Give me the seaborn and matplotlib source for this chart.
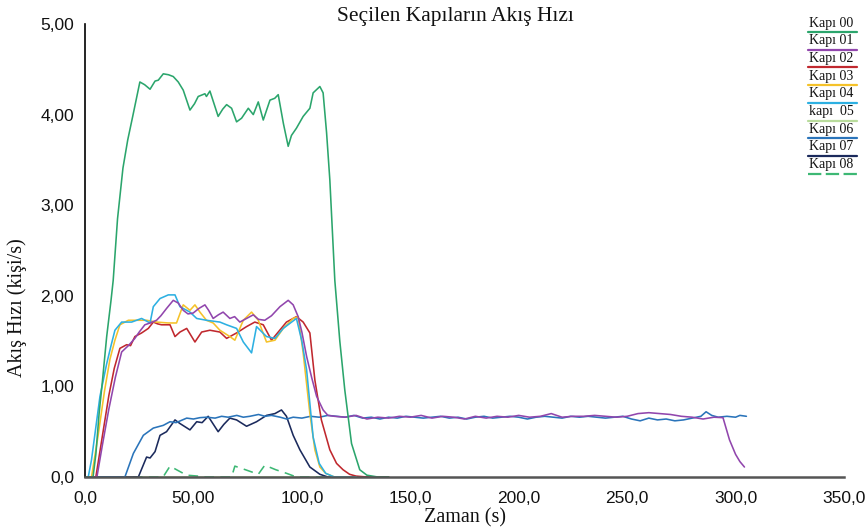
import matplotlib
matplotlib.use("Agg")
import matplotlib.pyplot as plt
from matplotlib.lines import Line2D
import seaborn as sns
import pandas as pd

# ---------------- data ----------------
series_names = ["Kapı 00", "Kapı 01", "Kapı 02", "Kapı 03", "Kapı 04",
                "kapı  05", "Kapı 06", "Kapı 07", "Kapı 08"]

t00 = [0, 3.7, 5, 6.5, 8, 10, 12, 13, 15, 17.5, 19.7, 22, 25.3, 27.5, 30, 32.3, 33.8, 36.1, 38.5,
       40.7, 43, 45.3, 48.4, 50.5, 52.2, 55.3, 56, 57.6, 61.4, 63.5, 65.3, 67.6, 69.9, 72.2, 75.3,
       77.6, 79.9, 82.2, 85.3, 87.5, 89.1, 91.5, 93.7, 95.2, 97.5, 100.6, 103.7, 105.2, 108.3,
       109.8, 111.4, 112.9, 115.2, 117.5, 119.8, 122.9, 126.7, 130, 135, 140]
y00 = [0, 0, 0.25, 0.7, 1.05, 1.55, 1.95, 2.17, 2.85, 3.41, 3.72, 3.98, 4.36, 4.33, 4.28, 4.37, 4.38,
       4.45, 4.44, 4.42, 4.36, 4.27, 4.05, 4.12, 4.20, 4.23, 4.20, 4.26, 3.98, 4.06, 4.11, 4.07,
       3.92, 3.96, 4.07, 4.00, 4.14, 3.94, 4.16, 4.18, 4.22, 3.90, 3.65, 3.77, 3.85, 3.98, 4.07,
       4.24, 4.31, 4.24, 3.80, 3.28, 2.17, 1.50, 0.96, 0.37, 0.08, 0.02, 0, 0]

t01 = [0, 5.5, 8, 11, 14, 16.9, 20, 23, 25, 27.6, 30, 33, 35, 37.6, 40.7, 43, 45.3, 47.5, 49.9,
       52.5, 55.3, 57, 59.1, 61.5, 63.7, 66.8, 69, 71.4, 74.5, 77.6, 80, 82.9, 86, 89.9, 93.7, 96,
       98.3, 100, 102.2, 104.5, 106.8, 109.8, 112,
       115, 120, 125, 130, 135, 140, 145, 150, 155, 160, 165, 170, 175, 180, 185, 190, 195, 200,
       205, 210, 215, 220, 225, 230, 235, 240, 245, 250, 255, 260, 265, 270, 275, 280, 285, 290,
       294.2, 297.2, 300, 302, 304.1]
y01 = [0, 0, 0.35, 0.75, 1.10, 1.38, 1.45, 1.53, 1.60, 1.68, 1.70, 1.73, 1.78, 1.86, 1.95, 1.92,
       1.84, 1.80, 1.81, 1.86, 1.90, 1.84, 1.75, 1.79, 1.82, 1.75, 1.77, 1.71, 1.75, 1.79, 1.74,
       1.73, 1.78, 1.88, 1.95, 1.90, 1.77, 1.60, 1.33, 1.10, 0.89, 0.74, 0.68,
       0.67, 0.66, 0.68, 0.64, 0.66, 0.65, 0.67, 0.66, 0.68, 0.65, 0.67, 0.66, 0.64, 0.67, 0.65,
       0.67, 0.66, 0.68, 0.66, 0.67, 0.70, 0.66, 0.67, 0.67, 0.68, 0.67, 0.66, 0.67, 0.70, 0.71,
       0.70, 0.69, 0.67, 0.66, 0.64, 0.66, 0.655, 0.41, 0.25, 0.17, 0.11]

t02 = [0, 5, 8, 11, 13.5, 16.1, 19.2, 21, 23, 26.1, 29.2, 31.5, 33.5, 35.3, 39.2, 41.5, 43.8, 46.9,
       50.7, 53.8, 57.6, 62.2, 65.3, 69.9, 74.5, 78.3, 82.2, 86, 89.1, 92.9, 97.5, 100.6, 103.7,
       106, 109, 112.9, 116, 119, 122, 125, 130, 140]
y02 = [0, 0, 0.45, 0.90, 1.20, 1.42, 1.46, 1.45, 1.55, 1.59, 1.64, 1.71, 1.69, 1.68, 1.68, 1.55,
       1.60, 1.64, 1.49, 1.60, 1.62, 1.60, 1.53, 1.59, 1.66, 1.71, 1.68, 1.51, 1.60, 1.71, 1.77,
       1.71, 1.59, 1.07, 0.63, 0.30, 0.15, 0.08, 0.03, 0.01, 0, 0]

t03 = [0, 3, 6, 9, 11.5, 13.8, 16.1, 20, 24.6, 28.4, 33, 38.4, 42.2, 45.3, 48.4, 50.7, 53, 56,
       59.1, 62.2, 66.8, 69.1, 73, 76.8, 79.9, 83.7, 87.6, 91.4, 96, 98.3, 100.6, 103.7, 106,
       108.3, 111, 115, 125]
y03 = [0, 0, 0.45, 0.95, 1.30, 1.51, 1.68, 1.73, 1.73, 1.73, 1.71, 1.70, 1.70, 1.90, 1.84, 1.90,
       1.82, 1.73, 1.70, 1.62, 1.55, 1.51, 1.73, 1.82, 1.73, 1.49, 1.51, 1.64, 1.75, 1.77, 1.37,
       0.70, 0.30, 0.11, 0.04, 0, 0]

t04 = [0, 1.5, 3, 5, 6.9, 10, 12, 13.8, 16.9, 21.5, 26.1, 30, 31.5, 34.6, 38.4, 41.5, 43.8, 48.4,
       51.5, 56, 62.2, 65.3, 69.9, 73, 76.8, 79.1, 83.7, 87.6, 91.4, 97.5, 100, 102.2, 105.2, 108,
       111, 115, 125]
y04 = [0, 0, 0.19, 0.55, 0.89, 1.25, 1.45, 1.62, 1.71, 1.71, 1.75, 1.70, 1.88, 1.97, 2.01, 2.01,
       1.88, 1.82, 1.75, 1.73, 1.71, 1.68, 1.64, 1.49, 1.37, 1.66, 1.55, 1.53, 1.64, 1.75, 1.50,
       1.18, 0.44, 0.15, 0.04, 0, 0]

t05 = [0, 140]
y05 = [0, 0]

t06 = [0, 18.4, 22.3, 26.9, 31.5, 36.1, 39.2, 42, 46.9, 50, 53, 56, 60, 63, 66, 70, 73, 76, 80,
       83, 86, 90, 93, 96, 100, 104, 108, 112, 116, 120, 124, 128, 132, 136, 140, 144, 148, 152,
       156, 160, 164, 168, 172, 176, 180, 184, 188, 192, 196, 200, 204, 208, 212, 216, 220, 224,
       228, 232, 236, 240, 244, 248, 252, 256, 260, 264, 268, 272, 276, 280, 284, 286.4, 289, 292,
       296, 300, 302, 305]
y06 = [0, 0, 0.26, 0.46, 0.54, 0.57, 0.61, 0.60, 0.65, 0.64, 0.655, 0.66, 0.65, 0.67, 0.66, 0.68,
       0.66, 0.67, 0.69, 0.67, 0.68, 0.66, 0.64, 0.66, 0.65, 0.67, 0.66, 0.68, 0.67, 0.66, 0.68,
       0.65, 0.66, 0.64, 0.66, 0.65, 0.67, 0.66, 0.65, 0.66, 0.67, 0.65, 0.66, 0.64, 0.66, 0.67,
       0.65, 0.66, 0.67, 0.66, 0.64, 0.66, 0.67, 0.66, 0.65, 0.67, 0.66, 0.67, 0.66, 0.65, 0.66,
       0.67, 0.64, 0.62, 0.65, 0.63, 0.64, 0.62, 0.63, 0.65, 0.67, 0.72, 0.68, 0.66, 0.67, 0.66,
       0.68, 0.67]

t07 = [0, 24.6, 28.4, 30, 32.3, 34.6, 37.6, 41.5, 43.8, 48.4, 51.5, 54, 56.8, 61.4, 64, 66.8,
       69.9, 74.5, 79.1, 83.7, 87.6, 90.6, 92.9, 96, 99.1, 103.7, 108.3, 112, 125]
y07 = [0, 0, 0.22, 0.21, 0.28, 0.46, 0.50, 0.63, 0.59, 0.52, 0.61, 0.60, 0.67, 0.50, 0.58, 0.65,
       0.63, 0.56, 0.61, 0.68, 0.70, 0.74, 0.67, 0.46, 0.30, 0.11, 0.03, 0, 0]

t08 = [0, 36, 39.2, 43, 46.9, 52, 55, 67.6, 69.1, 74, 79.9, 82.9, 88, 93, 97.5, 140]
y08 = [0, 0, 0.12, 0.07, 0.02, 0.01, 0, 0, 0.12, 0.08, 0.03, 0.13, 0.08, 0.04, 0, 0]

x_ticks = [0, 50, 100, 150, 200, 250, 300, 350]
x_tick_labels = ["0,0", "50,00", "100,0", "150,0", "200,0", "250,0", "300,0", "350,0"]
y_ticks = [0, 1, 2, 3, 4, 5]
y_tick_labels = ["0,0", "1,00", "2,00", "3,00", "4,00", "5,00"]

colors = ["#2ba56c", "#9146ad", "#c0282e", "#f5c22a", "#2db0e2",
          "#b9dc9c", "#2a74ba", "#1b2a5c", "#3db874"]

all_t = [t00, t01, t02, t03, t04, t05, t06, t07, t08]
all_y = [y00, y01, y02, y03, y04, y05, y06, y07, y08]

# ---------------- plot ----------------
sns.set_theme(style="white")
plt.rcParams["font.family"] = ["Liberation Sans", "DejaVu Sans"]

fig = plt.figure(figsize=(8.67, 5.31), dpi=100)
ax = fig.add_axes([85 / 867, 1 - 477 / 531, (844 - 85) / 867, (477 - 24) / 531])

draw_order = [5, 8, 7, 6, 2, 3, 4, 1, 0]
for i in draw_order:
    df = pd.DataFrame({"t": all_t[i], "v": all_y[i]})
    sns.lineplot(data=df, x="t", y="v", ax=ax, color=colors[i], linewidth=1.15,
                 estimator=None, sort=False,
                 linestyle=(0, (6, 4)) if i == 8 else "-")

ax.set_xlim(0, 350)
ax.set_ylim(0, 5)
ax.set_xticks(x_ticks)
ax.set_xticklabels(x_tick_labels)
ax.set_yticks(y_ticks)
ax.set_yticklabels(y_tick_labels)
ax.tick_params(axis="both", direction="inout", length=8, width=1.2, color="black",
               labelsize=12.5, labelcolor="#111111")
ax.tick_params(axis="x", pad=6)
ax.tick_params(axis="y", pad=4)
for s in ["top", "right"]:
    ax.spines[s].set_visible(False)
ax.spines["left"].set_color("black")
ax.spines["left"].set_linewidth(1.2)
ax.spines["bottom"].set_color("#555555")
ax.spines["bottom"].set_linewidth(1.8)
ax.grid(False)

serif = ["Liberation Serif", "DejaVu Serif"]
ax.set_xlabel("Zaman (s)", family=serif, fontsize=14.5, color="#111111")
ax.set_ylabel("Akış Hızı (kişi/s)", family=serif, fontsize=14.5, color="#111111")
ax.xaxis.set_label_coords(0.5, -0.07)
ax.yaxis.set_label_coords(-0.076, 0.373)

fig.text(455 / 867, 1 - 17 / 531, "Seçilen Kapıların Akış Hızı", family=serif,
         fontsize=15.5, ha="center", va="center", color="#111111")

# legend (text with a line beneath)
for k, name in enumerate(series_names):
    ty = 23 + k * 17.7
    fig.text(809 / 867, 1 - ty / 531, name, family=serif, fontsize=10,
             ha="left", va="center", color="#111111")
    ly = 1 - (ty + 9) / 531
    ls = (0, (6, 2)) if k == 8 else "-"
    fig.add_artist(Line2D([808 / 867, 857 / 867], [ly, ly], transform=fig.transFigure,
                          color=colors[k], linewidth=1.6, linestyle=ls))

fig.savefig("out.png", dpi=100)
